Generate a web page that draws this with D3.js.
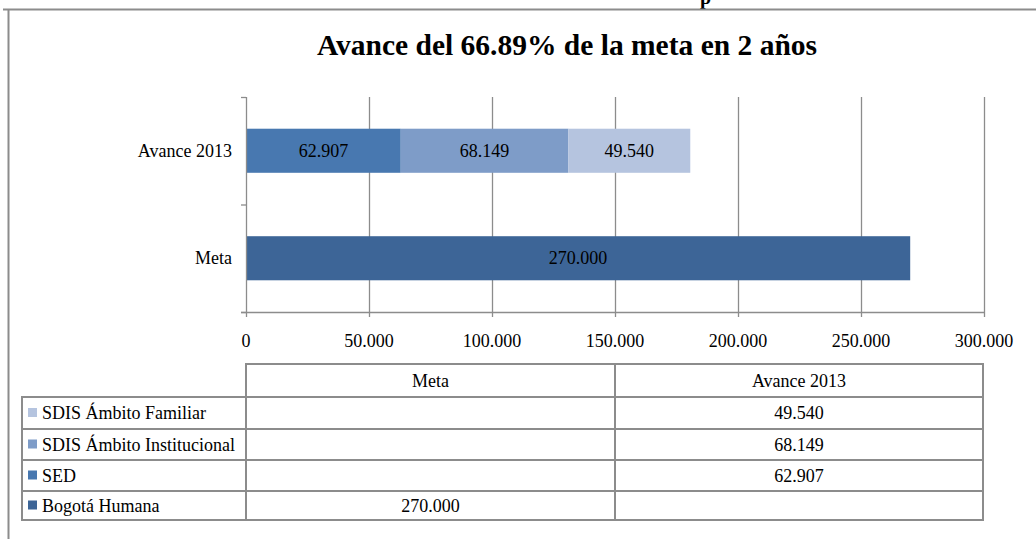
<!DOCTYPE html>
<html>
<head>
<meta charset="utf-8">
<script src="https://cdn.jsdelivr.net/npm/d3@7"></script>
<style>
    body { margin: 0; background: #fff; }
    text { font-family: "Liberation Serif", "Times New Roman", serif; fill: #000; }
</style>
</head>
<body>
<div id="chart"></div>
<script>
// Data
const categories = ["Avance 2013", "Meta"];
const seriesNames = ["Bogotá Humana", "SED", "SDIS Ámbito Institucional", "SDIS Ámbito Familiar"];
const metaValues = [270000, null, null, null];      // per series, Meta column
const avanceValues = [null, 62907, 68149, 49540];   // per series, Avance 2013 column
const seriesColors = ["#3d6597", "#4878b0", "#7e9cc8", "#b5c4df"];
const xTicks = [0, 50000, 100000, 150000, 200000, 250000, 300000];
const titleText = "Avance del 66.89% de la meta en 2 años";

const width = 1036, height = 539;
const fs = "18px";
const fmt = v => d3.format(",")(v).replace(/,/g, ".");

const svg = d3.select("#chart").append("svg")
    .attr("width", width)
    .attr("height", height);

// chart frame (partly cropped in the picture)
svg.append("text")
    .attr("x", 700).attr("y", 4)
    .style("font-size", "20px").style("font-weight", "bold")
    .text("p");
svg.append("path")
    .attr("d", "M3,9.5H1036M8.5,9.5V539")
    .attr("fill", "none")
    .attr("stroke", "#8c8c8c")
    .attr("stroke-width", 2);

// title
svg.append("text")
    .attr("x", 567).attr("y", 55)
    .attr("text-anchor", "middle")
    .style("font-size", "29.5px").style("font-weight", "bold")
    .text(titleText);

// scales
const x = d3.scaleLinear().domain([0, 300000]).range([246, 984]);
const y = d3.scaleBand().domain(categories).range([97, 312])
    .paddingInner(0.59).paddingOuter(0.295);
const yStep = y.step();

// gridlines
const grid = svg.append("g");
grid.selectAll("line")
    .data(xTicks.slice(1))
    .enter()
    .append("line")
        .attr("x1", d => x(d) + 0.5).attr("x2", d => x(d) + 0.5)
        .attr("y1", 97).attr("y2", 317)
        .attr("stroke", "#8c8c8c")
        .attr("stroke-width", 1.3);

// stacked bars
const stackRows = categories.map(c => {
    const vals = c === "Meta" ? metaValues : avanceValues;
    let acc = 0;
    return vals.map((v, i) => {
        const d = { cat: c, i: i, v: v || 0, x0: acc };
        acc += v || 0;
        d.x1 = acc;
        return d;
    }).filter(d => d.v > 0);
}).flat();

svg.append("g")
    .selectAll("rect")
    .data(stackRows)
    .enter()
    .append("rect")
        .attr("x", d => x(d.x0))
        .attr("y", d => y(d.cat))
        .attr("width", d => x(d.x1) - x(d.x0))
        .attr("height", y.bandwidth())
        .attr("fill", d => seriesColors[d.i]);

svg.append("g")
    .selectAll("text")
    .data(stackRows)
    .enter()
    .append("text")
        .attr("x", d => (x(d.x0) + x(d.x1)) / 2)
        .attr("y", d => y(d.cat) + y.bandwidth() / 2 + 6)
        .attr("text-anchor", "middle")
        .style("font-size", fs)
        .text(d => fmt(d.v));

// axes
const axes = svg.append("g")
    .attr("stroke", "#8c8c8c")
    .attr("stroke-width", 1.3);
axes.append("line")
    .attr("x1", 246.5).attr("x2", 246.5).attr("y1", 97).attr("y2", 317);
axes.append("line")
    .attr("x1", 241).attr("x2", 984).attr("y1", 312.5).attr("y2", 312.5);
axes.selectAll(".ytick")
    .data([97, 97 + yStep, 312])
    .enter()
    .append("line")
        .attr("x1", 241).attr("x2", 246)
        .attr("y1", d => d + 0.5).attr("y2", d => d + 0.5);

svg.append("g")
    .selectAll("text")
    .data(xTicks)
    .enter()
    .append("text")
        .attr("x", d => x(d))
        .attr("y", 347)
        .attr("text-anchor", "middle")
        .style("font-size", fs)
        .text(d => fmt(d));

svg.append("g")
    .selectAll("text")
    .data(categories)
    .enter()
    .append("text")
        .attr("x", 232)
        .attr("y", d => y(d) + y.bandwidth() / 2 + 6)
        .attr("text-anchor", "end")
        .style("font-size", fs)
        .text(d => d);

// data table
const colX = [22, 246, 615, 983];
const rowY = [364, 397, 429, 460, 491, 520];
const tableRows = [3, 2, 1, 0]; // series order shown top to bottom
const tbl = svg.append("g");

const lineStyle = sel => sel.attr("stroke", "#8c8c8c").attr("stroke-width", 2).attr("fill", "none");

// header cells
tbl.append("rect").attr("x", colX[1]).attr("y", rowY[0])
    .attr("width", colX[3] - colX[1]).attr("height", rowY[1] - rowY[0]).call(lineStyle);
tbl.append("line").attr("x1", colX[2]).attr("x2", colX[2])
    .attr("y1", rowY[0]).attr("y2", rowY[5]).call(lineStyle);
tbl.append("rect").attr("x", colX[0]).attr("y", rowY[1])
    .attr("width", colX[3] - colX[0]).attr("height", rowY[5] - rowY[1]).call(lineStyle);
tbl.append("line").attr("x1", colX[1]).attr("x2", colX[1])
    .attr("y1", rowY[1]).attr("y2", rowY[5]).call(lineStyle);
tbl.selectAll(".hline")
    .data(rowY.slice(2, 5))
    .enter()
    .append("line")
        .attr("x1", colX[0]).attr("x2", colX[3])
        .attr("y1", d => d).attr("y2", d => d)
        .call(lineStyle);

["Meta", "Avance 2013"].forEach((h, j) => {
    tbl.append("text")
        .attr("x", (colX[j + 1] + colX[j + 2]) / 2)
        .attr("y", (rowY[0] + rowY[1]) / 2 + 6)
        .attr("text-anchor", "middle")
        .style("font-size", fs)
        .text(h);
});

tableRows.forEach((s, r) => {
    const cy = (rowY[r + 1] + rowY[r + 2]) / 2;
    tbl.append("rect")
        .attr("x", 28).attr("y", cy - 5)
        .attr("width", 9).attr("height", 9)
        .attr("fill", seriesColors[s]);
    tbl.append("text")
        .attr("x", 42).attr("y", cy + 6)
        .style("font-size", fs)
        .text(seriesNames[s]);
    [metaValues[s], avanceValues[s]].forEach((v, j) => {
        if (v == null) return;
        tbl.append("text")
            .attr("x", (colX[j + 1] + colX[j + 2]) / 2)
            .attr("y", cy + 6)
            .attr("text-anchor", "middle")
            .style("font-size", fs)
            .text(fmt(v));
    });
});
</script>
</body>
</html>
